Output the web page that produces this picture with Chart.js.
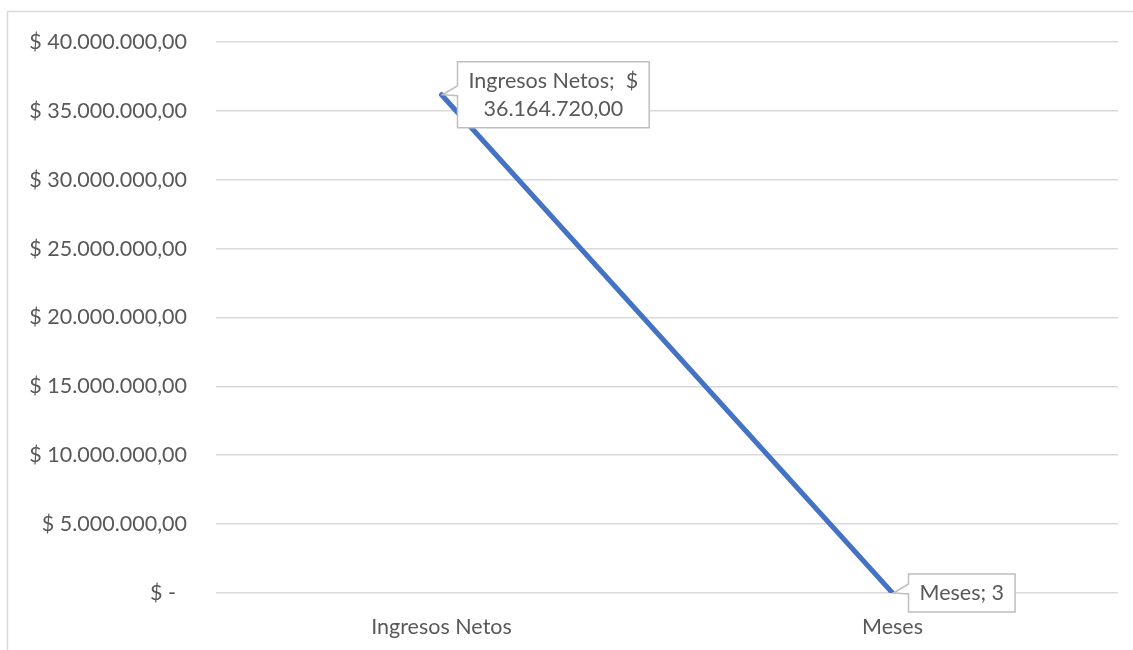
<!DOCTYPE html>
<html lang="es">
<head>
<meta charset="utf-8">
<title>Ingresos Netos</title>
<script src="https://cdn.jsdelivr.net/npm/chart.js@4"></script>
<style>
  html, body { margin: 0; padding: 0; background: #fff; }
  canvas { display: block; }
</style>
</head>
<body>
<canvas id="lineChart" width="1133" height="650"></canvas>
<script>
// Datos
const categories = ['Ingresos Netos', 'Meses'];
const values = [36164720, 3];
const yTickValues = [0, 5000000, 10000000, 15000000, 20000000, 25000000, 30000000, 35000000, 40000000];

const FONT = 'Lato, "Open Sans", sans-serif';
const FONT_SIZE = 21.5;
const TEXT = '#595959';
const GRID = '#d9d9d9';

// 40000000 -> "40.000.000,00"
function fmtNum(v) {
  const [ent, dec] = v.toFixed(2).split('.');
  return ent.replace(/\B(?=(\d{3})+(?!\d))/g, '.') + ',' + dec;
}

// formato contable: el cero se escribe como guion
function fmtMoney(v) {
  return v === 0 ? '$ -  ' : '$ ' + fmtNum(v);
}

function labelLines(cat, v) {
  if (v >= 1000) return [cat + ';  $', fmtNum(v)];
  return [cat + '; ' + v];
}

// marco del gráfico
const frame = {
  id: 'frame',
  beforeDraw(chart) {
    const ctx = chart.ctx;
    ctx.save();
    ctx.strokeStyle = GRID;
    ctx.lineWidth = 1.5;
    ctx.strokeRect(7.5, 11.5, chart.width + 20, chart.height + 20);
    ctx.restore();
  }
};

// etiquetas tipo globo a la derecha de cada punto
const callouts = {
  id: 'callouts',
  afterDatasetsDraw(chart) {
    const ctx = chart.ctx;
    const pts = chart.getDatasetMeta(0).data;
    ctx.save();
    ctx.font = FONT_SIZE + 'px ' + FONT;
    ctx.textAlign = 'center';
    ctx.textBaseline = 'middle';
    pts.forEach((p, i) => {
      const lines = labelLines(categories[i], values[i]);
      const lh = 28;
      const w = Math.max(...lines.map(l => ctx.measureText(l).width)) + 22;
      const h = lines.length * lh + 10;
      const x = p.x + 16;
      const y = p.y - h / 2;
      ctx.beginPath();
      ctx.moveTo(x, y);
      ctx.lineTo(x + w, y);
      ctx.lineTo(x + w, y + h);
      ctx.lineTo(x, y + h);
      ctx.lineTo(x, p.y + 1);
      ctx.lineTo(p.x + 1, p.y);
      ctx.lineTo(x, p.y - 9);
      ctx.closePath();
      ctx.fillStyle = '#fff';
      ctx.fill();
      ctx.strokeStyle = '#bfbfbf';
      ctx.lineWidth = 1.5;
      ctx.stroke();
      ctx.fillStyle = TEXT;
      lines.forEach((l, k) => {
        ctx.fillText(l, x + w / 2, y + 5 + lh * k + lh / 2);
      });
    });
    ctx.restore();
  }
};

new Chart(document.getElementById('lineChart').getContext('2d'), {
  type: 'line',
  data: {
    labels: categories,
    datasets: [{
      label: 'Ingresos Netos',
      data: values,
      borderColor: '#4472c4',
      borderWidth: 5,
      borderCapStyle: 'round',
      pointRadius: 0,
      fill: false,
      tension: 0
    }]
  },
  options: {
    responsive: false,
    animation: false,
    layout: { padding: { left: 0, top: 41, right: 15, bottom: 0 } },
    plugins: {
      legend: { display: false },
      tooltip: { enabled: false }
    },
    scales: {
      x: {
        offset: true,
        grid: { display: false },
        border: { display: false },
        ticks: { color: TEXT, font: { family: FONT, size: FONT_SIZE }, padding: 13 },
        afterFit(s) { s.height = 57; }
      },
      y: {
        min: 0,
        max: 40000000,
        grid: { color: GRID, lineWidth: 1.5, drawTicks: false },
        border: { display: false },
        ticks: {
          color: TEXT,
          font: { family: FONT, size: FONT_SIZE },
          padding: 29,
          callback: v => fmtMoney(v)
        },
        afterBuildTicks(s) { s.ticks = yTickValues.map(v => ({ value: v })); },
        afterFit(s) { s.width = 216; }
      }
    }
  },
  plugins: [frame, callouts]
});
</script>
</body>
</html>
